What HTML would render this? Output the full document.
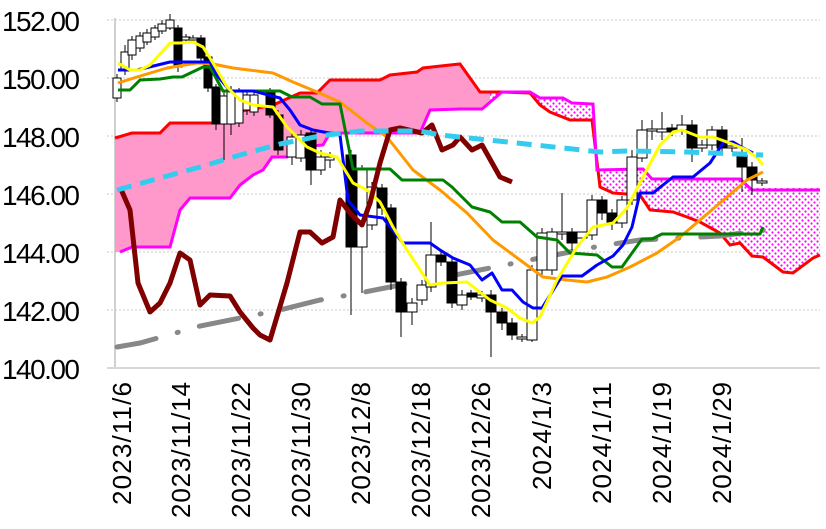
<!DOCTYPE html>
<html><head><meta charset="utf-8"><style>html,body{margin:0;padding:0;background:#fff}svg{display:block}</style></head>
<body>
<svg width="826" height="529" viewBox="0 0 826 529" xmlns="http://www.w3.org/2000/svg" font-family="Liberation Sans, sans-serif">
<defs>
<pattern id="dots" width="6" height="6" patternUnits="userSpaceOnUse">
<rect width="6" height="6" fill="#fff"/><circle cx="1.5" cy="1.5" r="1.1" fill="#ff00ff"/><circle cx="4.5" cy="4.5" r="1.1" fill="#ff00ff"/>
</pattern>
<clipPath id="cl"><rect x="0" y="0" width="490" height="400"/></clipPath>
<clipPath id="cr"><rect x="490" y="0" width="400" height="400"/></clipPath>
</defs>
<g stroke="#c8c8c8" stroke-dasharray="2,2" stroke-width="1">
<line x1="107" y1="20" x2="820" y2="20"/><line x1="107" y1="78" x2="820" y2="78"/><line x1="107" y1="136" x2="820" y2="136"/>
<line x1="107" y1="194" x2="820" y2="194"/><line x1="107" y1="252" x2="820" y2="252"/><line x1="107" y1="310" x2="820" y2="310"/>
</g>
<line x1="115" y1="18" x2="115" y2="369" stroke="#d0d0d0" stroke-width="2"/>
<line x1="107" y1="368" x2="820" y2="368" stroke="#d8d8d8" stroke-width="2"/>
<g font-size="28" fill="#000">
<text x="2" y="31" textLength="78">152.00</text>
<text x="2" y="89" textLength="78">150.00</text>
<text x="2" y="147" textLength="78">148.00</text>
<text x="2" y="205" textLength="78">146.00</text>
<text x="2" y="263" textLength="78">144.00</text>
<text x="2" y="321" textLength="78">142.00</text>
<text x="2" y="379" textLength="78">140.00</text>
</g>
<g font-size="26" fill="#000" text-anchor="end">
<text transform="translate(131,382) rotate(-90)" textLength="123">2023/11/6</text>
<text transform="translate(190,382) rotate(-90)" textLength="136">2023/11/14</text>
<text transform="translate(250,382) rotate(-90)" textLength="136">2023/11/22</text>
<text transform="translate(310,382) rotate(-90)" textLength="136">2023/11/30</text>
<text transform="translate(370,382) rotate(-90)" textLength="123">2023/12/8</text>
<text transform="translate(430,382) rotate(-90)" textLength="136">2023/12/18</text>
<text transform="translate(490,382) rotate(-90)" textLength="136">2023/12/26</text>
<text transform="translate(551,382) rotate(-90)" textLength="108">2024/1/3</text>
<text transform="translate(611,382) rotate(-90)" textLength="122">2024/1/11</text>
<text transform="translate(671,382) rotate(-90)" textLength="122">2024/1/19</text>
<text transform="translate(731,382) rotate(-90)" textLength="122">2024/1/29</text>
</g>
<path d="M115,138 L132,133 L160,133 L170,123 L213,123 L237,112 L273,105 L300,93 L317,93 L330,80 L380,80 L390,75 L417,72 L423,68 L450,65 L460,64 L480,92 L500,92 L530,93 L540,105 L550,112 L570,120 L592,120 L600,187 L613,193 L640,195 L650,210 L673,212 L687,217 L700,222 L720,233 L730,245 L740,243 L752,256 L763,257 L783,272 L793,273 L813,258 L820,255 L820,188 L813,188 L752,188 L740,179 L652,179 L643,169 L597,170 L593,104 L572,103 L563,98 L540,98 L530,92 L502,92 L482,109 L460,109 L430,110 L420,133 L330,133 L323,145 L300,147 L287,157 L272,157 L263,170 L253,175 L240,185 L230,198 L190,198 L180,210 L170,247 L132,247 L120,252 L115,252 Z" fill="#ff99cc" clip-path="url(#cl)"/>
<path d="M115,138 L132,133 L160,133 L170,123 L213,123 L237,112 L273,105 L300,93 L317,93 L330,80 L380,80 L390,75 L417,72 L423,68 L450,65 L460,64 L480,92 L500,92 L530,93 L540,105 L550,112 L570,120 L592,120 L600,187 L613,193 L640,195 L650,210 L673,212 L687,217 L700,222 L720,233 L730,245 L740,243 L752,256 L763,257 L783,272 L793,273 L813,258 L820,255 L820,188 L813,188 L752,188 L740,179 L652,179 L643,169 L597,170 L593,104 L572,103 L563,98 L540,98 L530,92 L502,92 L482,109 L460,109 L430,110 L420,133 L330,133 L323,145 L300,147 L287,157 L272,157 L263,170 L253,175 L240,185 L230,198 L190,198 L180,210 L170,247 L132,247 L120,252 L115,252 Z" fill="url(#dots)" clip-path="url(#cr)"/>
<path d="M115,138 L132,133 L160,133 L170,123 L213,123 L237,112 L273,105 L300,93 L317,93 L330,80 L380,80 L390,75 L417,72 L423,68 L450,65 L460,64 L480,92 L500,92 L530,93 L540,105 L550,112 L570,120 L592,120 L600,187 L613,193 L640,195 L650,210 L673,212 L687,217 L700,222 L720,233 L730,245 L740,243 L752,256 L763,257 L783,272 L793,273 L813,258 L820,255" fill="none" stroke="#ff0000" stroke-width="3"/>
<path d="M120,252 L132,247 L170,247 L180,210 L190,198 L230,198 L240,185 L253,175 L263,170 L272,157 L287,157 L300,147 L323,145 L330,133 L420,133 L430,110 L460,109 L482,109 L502,92 L530,92 L540,98 L563,98 L572,103 L593,104 L597,170 L643,169 L652,179 L740,179 L752,190 L820,190" fill="none" stroke="#ff00ff" stroke-width="3"/>
<path d="M117,347 L140,343 L165,336 L200,326 L240,318 L280,310 L320,300 L360,293 L400,285 L440,278 L480,270 L520,262 L560,254 L600,246 L640,240 L680,238 L720,236 L765,230" fill="none" stroke="#888" stroke-width="5" stroke-linecap="round" stroke-dasharray="40,22,1,22"/>
<g stroke="#000" stroke-width="1">
<g>
<line x1="117" y1="74" x2="117" y2="102"/><line x1="125" y1="45" x2="125" y2="75"/><line x1="132" y1="36" x2="132" y2="60"/><line x1="140" y1="32" x2="140" y2="52"/><line x1="147" y1="29" x2="147" y2="45"/><line x1="155" y1="25" x2="155" y2="40"/><line x1="162" y1="20" x2="162" y2="34"/><line x1="170" y1="14" x2="170" y2="30"/><line x1="178" y1="25" x2="178" y2="72"/><line x1="186" y1="34" x2="186" y2="44"/><line x1="193" y1="35" x2="193" y2="43"/><line x1="201" y1="35" x2="201" y2="62"/><line x1="208" y1="55" x2="208" y2="92"/><line x1="216" y1="84" x2="216" y2="130"/><line x1="224" y1="90" x2="224" y2="160"/><line x1="231" y1="86" x2="231" y2="135"/><line x1="239" y1="88" x2="239" y2="127"/><line x1="247" y1="90" x2="247" y2="115"/><line x1="254" y1="90" x2="254" y2="116"/><line x1="270" y1="88" x2="270" y2="118"/><line x1="278" y1="110" x2="278" y2="155"/><line x1="292" y1="132" x2="292" y2="165"/><line x1="301" y1="130" x2="301" y2="162"/><line x1="311" y1="128" x2="311" y2="185"/><line x1="321" y1="150" x2="321" y2="175"/><line x1="330" y1="152" x2="330" y2="168"/><line x1="351" y1="150" x2="351" y2="315"/><line x1="362" y1="165" x2="362" y2="293"/><line x1="372" y1="182" x2="372" y2="230"/><line x1="382" y1="184" x2="382" y2="215"/><line x1="391" y1="204" x2="391" y2="290"/><line x1="401" y1="278" x2="401" y2="337"/><line x1="412" y1="298" x2="412" y2="325"/><line x1="422" y1="280" x2="422" y2="305"/><line x1="431" y1="222" x2="431" y2="292"/><line x1="441" y1="250" x2="441" y2="266"/><line x1="452" y1="258" x2="452" y2="308"/><line x1="462" y1="290" x2="462" y2="310"/><line x1="471" y1="290" x2="471" y2="300"/><line x1="482" y1="291" x2="482" y2="302"/><line x1="491" y1="290" x2="491" y2="357"/><line x1="502" y1="308" x2="502" y2="330"/><line x1="512" y1="318" x2="512" y2="340"/><line x1="522" y1="334" x2="522" y2="342"/><line x1="532" y1="265" x2="532" y2="342"/><line x1="542" y1="228" x2="542" y2="275"/><line x1="552" y1="228" x2="552" y2="275"/><line x1="562" y1="193" x2="562" y2="240"/><line x1="572" y1="228" x2="572" y2="250"/><line x1="592" y1="195" x2="592" y2="240"/><line x1="602" y1="196" x2="602" y2="220"/><line x1="612" y1="209" x2="612" y2="230"/><line x1="622" y1="196" x2="622" y2="228"/><line x1="632" y1="150" x2="632" y2="205"/><line x1="642" y1="120" x2="642" y2="162"/><line x1="652" y1="120" x2="652" y2="140"/><line x1="662" y1="112" x2="662" y2="140"/><line x1="672" y1="124" x2="672" y2="136"/><line x1="682" y1="115" x2="682" y2="135"/><line x1="692" y1="120" x2="692" y2="162"/><line x1="702" y1="140" x2="702" y2="152"/><line x1="712" y1="126" x2="712" y2="150"/><line x1="722" y1="126" x2="722" y2="155"/><line x1="732" y1="142" x2="732" y2="152"/><line x1="742" y1="138" x2="742" y2="192"/><line x1="752" y1="162" x2="752" y2="195"/><line x1="762" y1="178" x2="762" y2="186"/>
</g>
<g fill="#fff">
<rect x="113" y="78" width="8" height="20"/><rect x="121" y="52" width="8" height="18"/><rect x="128" y="40" width="8" height="15"/><rect x="136" y="36" width="8" height="12"/><rect x="143" y="33" width="8" height="9"/><rect x="151" y="28" width="8" height="9"/><rect x="158" y="24" width="8" height="7"/><rect x="166" y="20" width="8" height="8"/><rect x="182" y="37" width="8" height="3"/><rect x="189" y="38" width="8" height="2"/><rect x="220" y="96" width="8" height="28"/><rect x="227" y="90" width="8" height="34"/><rect x="235" y="92" width="8" height="31"/><rect x="243" y="95" width="8" height="15"/><rect x="250" y="95" width="8" height="17"/><rect x="287" y="137" width="9" height="20"/><rect x="296" y="135" width="9" height="23"/><rect x="316" y="157" width="9" height="13"/><rect x="325" y="157" width="9" height="3"/><rect x="357" y="170" width="10" height="77"/><rect x="367" y="187" width="10" height="38"/><rect x="407" y="303" width="10" height="9"/><rect x="417" y="285" width="10" height="15"/><rect x="426" y="255" width="10" height="32"/><rect x="457" y="295" width="10" height="10"/><rect x="477" y="295" width="10" height="3"/><rect x="517" y="337" width="10" height="2"/><rect x="527" y="270" width="10" height="70"/><rect x="537" y="233" width="10" height="37"/><rect x="547" y="232" width="10" height="38"/><rect x="557" y="232" width="10" height="2"/><rect x="577" y="232" width="10" height="6"/><rect x="587" y="200" width="10" height="35"/><rect x="617" y="200" width="10" height="23"/><rect x="627" y="157" width="10" height="43"/><rect x="637" y="130" width="10" height="28"/><rect x="647" y="129" width="10" height="2"/><rect x="657" y="129" width="10" height="3"/><rect x="677" y="125" width="10" height="5"/><rect x="697" y="145" width="10" height="3"/><rect x="707" y="130" width="10" height="15"/><rect x="727" y="146" width="10" height="2"/><rect x="757" y="181" width="10" height="2"/>
</g>
<g fill="#000">
<rect x="174" y="28" width="8" height="39"/><rect x="197" y="38" width="8" height="20"/><rect x="204" y="57" width="8" height="31"/><rect x="212" y="87" width="8" height="37"/><rect x="266" y="93" width="9" height="22"/><rect x="274" y="115" width="9" height="35"/><rect x="306" y="133" width="10" height="37"/><rect x="346" y="155" width="10" height="92"/><rect x="377" y="188" width="10" height="20"/><rect x="386" y="208" width="10" height="74"/><rect x="396" y="282" width="10" height="30"/><rect x="436" y="255" width="10" height="7"/><rect x="447" y="262" width="10" height="41"/><rect x="467" y="293" width="10" height="4"/><rect x="486" y="295" width="10" height="17"/><rect x="497" y="312" width="10" height="11"/><rect x="507" y="323" width="10" height="12"/><rect x="567" y="232" width="10" height="11"/><rect x="597" y="200" width="10" height="13"/><rect x="607" y="213" width="10" height="10"/><rect x="667" y="128" width="10" height="4"/><rect x="687" y="125" width="10" height="23"/><rect x="717" y="130" width="10" height="18"/><rect x="737" y="155" width="10" height="12"/><rect x="747" y="167" width="10" height="13"/>
</g>
</g>
<g fill="none" stroke-width="3" stroke-linejoin="round">
<path stroke="#ff9900" d="M118,83 L137,77 L167,68 L197,63 L213,64 L233,68 L273,73 L293,82 L317,92 L340,102 L367,123 L387,137 L413,170 L440,190 L467,213 L493,240 L520,260 L543,277 L567,280 L587,282 L607,277 L630,267 L657,253 L680,237 L700,220 L727,197 L747,180 L763,172"/>
<path stroke="#008000" d="M118,90 L130,90 L140,80 L160,79 L173,77 L182,77 L203,67 L210,67 L223,91 L280,91 L292,97 L310,97 L322,104 L340,104 L353,169 L390,169 L402,180 L443,180 L452,187 L472,207 L490,212 L502,222 L520,222 L537,237 L557,240 L570,253 L597,255 L612,267 L622,267 L642,239 L652,239 L662,234 L760,234 L763,227"/>
<path stroke="#0000ff" d="M118,70 L137,70 L170,62 L210,62 L217,75 L230,91 L253,91 L280,98 L290,110 L300,125 L313,130 L340,135 L348,200 L360,215 L383,218 L403,243 L430,243 L440,250 L453,258 L470,265 L482,280 L492,273 L502,290 L512,290 L523,302 L533,308 L542,308 L562,276 L582,276 L597,265 L613,256 L623,245 L632,227 L640,193 L653,193 L673,177 L693,177 L710,163 L723,143 L733,142 L743,148 L753,153"/>
<path stroke="#ffff00" d="M118,63 L130,70 L140,70 L150,65 L170,43 L180,43 L193,42 L203,47 L213,63 L227,87 L240,100 L253,105 L273,107 L287,127 L307,147 L320,153 L337,157 L353,183 L367,190 L380,202 L393,227 L407,250 L430,285 L443,283 L467,282 L490,300 L507,308 L520,318 L532,323 L540,317 L557,280 L577,247 L593,227 L613,223 L627,208 L643,177 L660,145 L673,132 L682,130 L700,137 L713,137 L727,142 L747,150 L757,158 L763,165"/>
<path stroke="#800000" stroke-width="5" d="M120,187 L130,210 L138,283 L150,312 L160,303 L170,283 L180,253 L190,260 L200,305 L210,295 L230,296 L240,312 L253,328 L260,335 L270,340 L287,283 L300,232 L310,232 L322,243 L333,237 L340,200 L350,213 L362,225 L370,203 L380,163 L390,130 L400,128 L422,133 L432,125 L442,150 L453,145 L460,137 L472,150 L482,145 L500,177 L512,182"/>
<path stroke="#33ccee" stroke-width="5" stroke-dasharray="15,9" d="M117,190 L160,178 L200,167 L240,155 L280,144 L320,136 L360,131 L420,131 L440,135 L517,143 L600,152 L627,151 L687,152 L763,155"/>
</g>
</svg>
</body></html>
